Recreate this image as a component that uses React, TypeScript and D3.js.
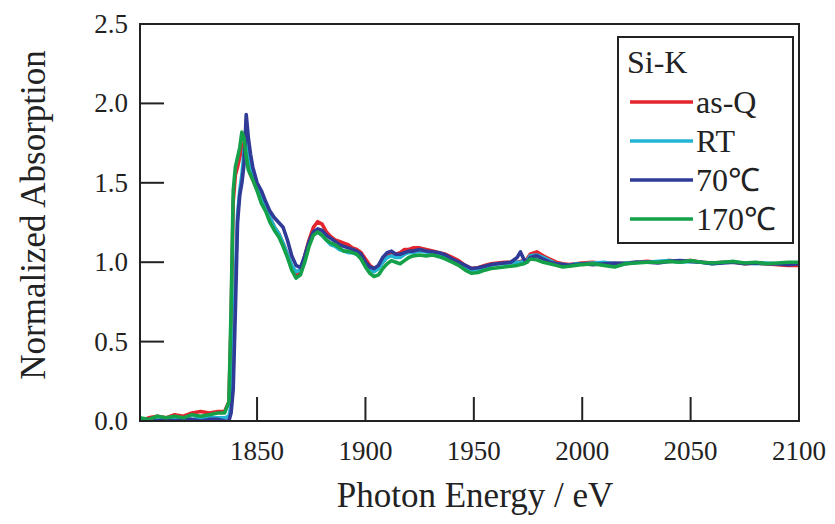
import React from "react";
import * as d3 from "d3";

const energy = [
  1796, 1800, 1804, 1808, 1812, 1816, 1820, 1824, 1828, 1832,
  1835, 1837,
  1838, 1839, 1840, 1841, 1842, 1843, 1844, 1845, 1846, 1847, 1848,
  1850, 1852, 1854, 1856, 1858, 1860, 1862, 1864, 1866, 1868, 1870, 1872, 1874, 1876, 1878, 1880, 1882, 1884, 1886, 1888, 1890, 1892, 1894, 1896, 1898, 1900, 1902, 1904, 1906, 1908, 1910, 1912, 1914, 1916, 1918, 1920, 1922,
  1925, 1928, 1931, 1934, 1937, 1940, 1943, 1946, 1949, 1952, 1955, 1958, 1961, 1964, 1967,
  1970, 1971.5, 1973,
  1974.5,
  1976, 1979, 1982, 1985, 1988, 1991, 1994, 1997,
  2000, 2005, 2010, 2015, 2020, 2025, 2030, 2035, 2040, 2045, 2050, 2055, 2060, 2065, 2070, 2075, 2080, 2085, 2090, 2095, 2100,
];

const asQ = [
  0.0, 0.02, 0.03, 0.02, 0.04, 0.03, 0.05, 0.06, 0.05, 0.06,
  0.06, 0.12,
  0.6, 1.38, 1.55, 1.6, 1.66, 1.72, 1.75, 1.68, 1.6, 1.55, 1.52,
  1.46, 1.4, 1.34, 1.28, 1.22, 1.18, 1.12, 1.05, 0.97, 0.92, 0.94, 1.04, 1.14, 1.22, 1.255, 1.24, 1.19, 1.16, 1.14, 1.13, 1.12, 1.11, 1.09, 1.08, 1.06, 1.02, 0.98, 0.96, 0.97, 1.0, 1.04, 1.06, 1.05, 1.06, 1.08, 1.08, 1.09,
  1.09, 1.08, 1.07, 1.06, 1.05, 1.03, 1.01, 0.98, 0.96, 0.965, 0.98, 0.99, 0.995, 1.0, 1.0,
  1.0, 1.005, 1.01,
  1.02,
  1.05, 1.065, 1.04, 1.02, 1.0, 0.99, 0.985, 0.99,
  0.995, 1.0, 0.99, 0.99, 0.995, 1.0, 1.005, 1.0, 1.01, 1.005, 1.01, 1.0, 0.995, 1.0, 1.0, 0.99, 0.995, 0.99, 0.985, 0.98, 0.98,
];

const rt = [
  0.01, 0.0, 0.01, 0.02, 0.01, 0.02, 0.01, 0.02, 0.02, 0.02,
  0.02, 0.03,
  0.1, 0.4, 0.9, 1.3, 1.45, 1.55, 1.7, 1.78, 1.7, 1.62, 1.56,
  1.48, 1.41, 1.35, 1.28, 1.22, 1.18, 1.12, 1.05, 0.98, 0.94, 0.95, 1.03, 1.12, 1.18, 1.19, 1.17, 1.14, 1.11, 1.1, 1.08, 1.07, 1.06, 1.06, 1.05, 1.03, 0.99, 0.95, 0.94, 0.96, 1.0, 1.03, 1.04, 1.03, 1.03, 1.05, 1.06, 1.06,
  1.07, 1.065, 1.06, 1.05, 1.035, 1.01, 0.99, 0.97, 0.95, 0.955, 0.97, 0.98, 0.99, 0.99, 0.995,
  1.0, 1.0, 1.005,
  1.01,
  1.04, 1.045, 1.03, 1.01, 0.99, 0.985, 0.98, 0.99,
  0.99, 0.995, 1.0, 0.99, 0.995, 1.0, 1.0, 1.005, 1.01, 1.0, 1.005, 1.0, 0.99, 1.0, 1.0, 0.995, 0.99, 0.995, 0.99, 0.99, 0.995,
];

const c70 = [
  0.0, 0.01, 0.0, 0.01, 0.0, 0.01, 0.01, 0.0, 0.01, 0.01,
  0.0, 0.0,
  0.05, 0.2, 0.7, 1.25, 1.42, 1.5, 1.62, 1.93, 1.78, 1.68, 1.6,
  1.5, 1.45, 1.38, 1.32, 1.28, 1.25, 1.22, 1.14, 1.04, 0.98, 0.965, 1.04, 1.13, 1.19, 1.21, 1.2, 1.17, 1.15, 1.13, 1.11, 1.1, 1.09, 1.08, 1.07, 1.05, 1.0, 0.97, 0.96, 0.98, 1.03, 1.06, 1.07, 1.05, 1.05, 1.06, 1.07, 1.07,
  1.08, 1.07, 1.065, 1.06, 1.045, 1.02, 1.0, 0.98, 0.96, 0.965, 0.975, 0.985, 0.99, 0.995, 1.0,
  1.03, 1.065, 1.02,
  1.0,
  1.03, 1.04, 1.02, 1.0, 0.99, 0.985, 0.98, 0.985,
  0.99, 0.985, 0.99, 0.995, 0.99, 1.0, 1.0, 0.995, 1.005, 1.01, 1.005, 1.0, 0.99, 0.995, 1.0, 0.99, 0.995, 0.99, 0.99, 0.985, 0.99,
];

const c170 = [
  0.02, 0.01, 0.03, 0.02, 0.03, 0.02, 0.04, 0.03, 0.04, 0.05,
  0.05, 0.12,
  0.7, 1.45, 1.6, 1.66, 1.72, 1.82, 1.78, 1.66, 1.58, 1.55, 1.52,
  1.45, 1.37, 1.32, 1.25, 1.2, 1.16, 1.1, 1.03, 0.95, 0.9, 0.92, 1.0, 1.1, 1.17, 1.19, 1.17, 1.14, 1.12, 1.11, 1.09, 1.07, 1.07, 1.06, 1.05, 1.02, 0.97, 0.93, 0.91, 0.92, 0.96, 0.99, 1.01, 1.0, 0.99, 1.01, 1.03, 1.04,
  1.045, 1.04, 1.045, 1.035, 1.02, 1.0, 0.98, 0.95, 0.93, 0.935, 0.95, 0.96, 0.965, 0.97, 0.975,
  0.98, 0.985, 0.99,
  1.0,
  1.02, 1.015, 1.0, 0.99, 0.98, 0.97, 0.975, 0.98,
  0.985, 0.99, 0.98, 0.97, 0.99, 0.995, 1.0, 1.0, 1.005, 1.0, 1.01, 1.0, 0.995, 1.0, 1.005, 0.995, 1.0, 0.99, 0.995, 1.0, 1.0,
];

const seriesNames = ["as-Q", "RT", "70℃", "170℃"];
const seriesValues = [asQ, rt, c70, c170];
const seriesColors = ["#e3262d", "#22b4d2", "#2f3b96", "#15a04a"];

const xTicks = [1850, 1900, 1950, 2000, 2050, 2100];
const yTicks = [0.0, 0.5, 1.0, 1.5, 2.0, 2.5];
const xDomain = [1796, 2100];
const yDomain = [0, 2.5];

const W = 835;
const H = 524;
const M = { left: 140, right: 799, top: 24, bottom: 421 };
const FONT = '"Liberation Serif", "Times New Roman", Times, serif';
const txt = { fontFamily: FONT };

export default function App() {
  const x = d3.scaleLinear().domain(xDomain).range([M.left, M.right]);
  const y = d3.scaleLinear().domain(yDomain).range([M.bottom, M.top]);
  const line = d3
    .line<[number, number]>()
    .x((d) => x(d[0]))
    .y((d) => y(d[1]));

  const tickLen = 24;
  const axisColor = "#222";

  return (
    <svg
      width={W}
      height={H}
      style={{ position: "absolute", left: 0, top: 0, background: "#fff" }}
    >
      <rect x={0} y={0} width={W} height={H} fill="#fff" />
      <defs>
        <clipPath id="plotclip">
          <rect x={M.left} y={M.top} width={M.right - M.left} height={M.bottom - M.top} />
        </clipPath>
      </defs>
      <g clipPath="url(#plotclip)">
        {seriesValues.map((vals, i) => (
          <path
            key={i}
            d={line(energy.map((e, j) => [e, vals[j]] as [number, number])) || ""}
            fill="none"
            stroke={seriesColors[i]}
            strokeWidth={3.6}
            strokeLinejoin="round"
            strokeLinecap="round"
          />
        ))}
      </g>
      <rect
        x={M.left}
        y={M.top}
        width={M.right - M.left}
        height={M.bottom - M.top}
        fill="none"
        stroke={axisColor}
        strokeWidth={2}
      />
      {xTicks.map((t) => (
        <g key={t}>
          <line x1={x(t)} x2={x(t)} y1={M.bottom} y2={M.bottom - tickLen} stroke={axisColor} strokeWidth={2} />
          <text x={x(t)} y={460} textAnchor="middle" fontSize={27} fill="#222" style={txt}>
            {t}
          </text>
        </g>
      ))}
      {yTicks.map((t) => (
        <g key={t}>
          <line x1={M.left} x2={M.left + tickLen} y1={y(t)} y2={y(t)} stroke={axisColor} strokeWidth={2} />
          <text x={128} y={y(t) + 9} textAnchor="end" fontSize={27} fill="#222" style={txt}>
            {t.toFixed(1)}
          </text>
        </g>
      ))}
      <text x={475} y={507} textAnchor="middle" fontSize={35} fill="#222" style={txt}>
        Photon Energy / eV
      </text>
      <text
        transform={`translate(45, 215) rotate(-90)`}
        textAnchor="middle"
        fontSize={35}
        fill="#222"
        style={txt}
      >
        Normalized Absorption
      </text>
      <rect x={618} y={37} width={175} height={206} fill="#fff" stroke={axisColor} strokeWidth={2} />
      <text x={627} y={73} fontSize={32} fill="#222" style={txt}>
        Si-K
      </text>
      {seriesNames.map((n, i) => {
        const ly = 102 + i * 39;
        return (
          <g key={n}>
            <line x1={630} x2={693} y1={ly} y2={ly} stroke={seriesColors[i]} strokeWidth={3.6} />
            <text x={696} y={ly + 11} fontSize={32} fill="#222" style={txt}>
              {n}
            </text>
          </g>
        );
      })}
    </svg>
  );
}
